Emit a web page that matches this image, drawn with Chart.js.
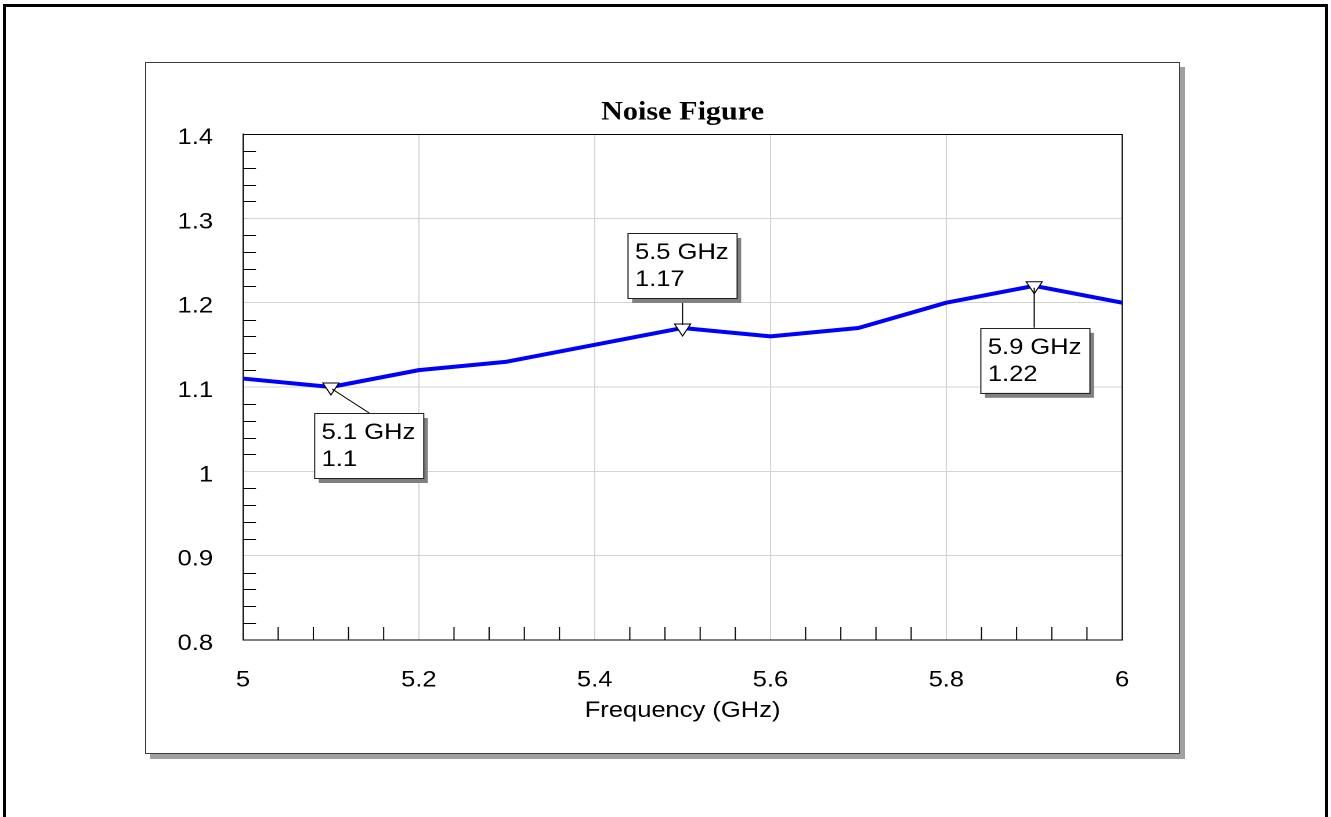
<!DOCTYPE html>
<html><head><meta charset="utf-8">
<script src="https://cdn.jsdelivr.net/npm/chart.js@4"></script>
<style>
html,body{margin:0;padding:0;background:#fff;overflow:hidden;width:1331px;height:817px;}
#frame{position:absolute;left:3px;top:4px;width:1325px;height:900px;border:3px solid #000;box-sizing:border-box;}
#panel{position:absolute;left:145px;top:62px;width:1035px;height:692px;border:1px solid #3c3c3c;box-sizing:border-box;background:#fff;box-shadow:5px 5px 0 #a0a0a0;}
#wrap{position:absolute;left:0;top:0;width:1147px;height:817px;transform:scaleX(1.160418);transform-origin:0 0;}
</style></head>
<body>
<div id="frame"></div>
<div id="panel"></div>
<div id="wrap"><canvas id="c" width="1147" height="817"></canvas></div>
<script>
// ---- data ----
const freqGHz = [5.0, 5.1, 5.2, 5.3, 5.4, 5.5, 5.6, 5.7, 5.8, 5.9, 6.0];
const noiseFigure = [1.11, 1.10, 1.12, 1.13, 1.15, 1.17, 1.16, 1.17, 1.20, 1.22, 1.20];
const markerFreqs = [5.1, 5.5, 5.9];
const markerValues = [1.1, 1.17, 1.22];
const xTickLabels = ['5', '5.2', '5.4', '5.6', '5.8', '6'];
const yTickLabels = ['0.8', '0.9', '1', '1.1', '1.2', '1.3', '1.4'];
const chartTitle = 'Noise Figure';
const xAxisTitle = 'Frequency (GHz)';

// ---- styling ----
const S = 1331 / 1147;
const SANS = '"Liberation Sans", Arial, sans-serif';
const SERIF = '"Liberation Serif", "Times New Roman", serif';
const GRID = '#d3d3d3';
const calloutPlacement = ['belowRight', 'above', 'below'];

const edgeGrid = (ctx) => {
  const n = ctx.scale.ticks.length;
  return (ctx.index === 0 || ctx.index === n - 1) ? 'rgba(0,0,0,0)' : GRID;
};

const framePlugin = {
  id: 'frameTicks',
  beforeDatasetsDraw(chart) {
    const { ctx, chartArea: a, scales: { x, y } } = chart;
    ctx.save();
    ctx.strokeStyle = '#000';
    ctx.lineWidth = 1;
    ctx.beginPath();
    const nx = Math.round((x.max - x.min) / 0.04);
    for (let k = 1; k < nx; k++) {
      if (k % 5 === 0) continue;
      const xp = x.getPixelForValue(x.min + k * 0.04);
      ctx.moveTo(xp, a.bottom);
      ctx.lineTo(xp, a.bottom - 13);
    }
    const ny = Math.round((y.max - y.min) / 0.02);
    for (let k = 1; k < ny; k++) {
      if (k % 5 === 0) continue;
      const yp = Math.round(y.getPixelForValue(y.min + k * 0.02)) + 0.5;
      ctx.moveTo(a.left, yp);
      ctx.lineTo(a.left + 13 / S, yp);
    }
    ctx.stroke();
    ctx.beginPath();
    ctx.moveTo(a.left, Math.round(a.top) + 0.5);
    ctx.lineTo(a.right, Math.round(a.top) + 0.5);
    ctx.moveTo(a.right, a.top);
    ctx.lineTo(a.right, a.bottom);
    ctx.stroke();
    ctx.restore();
  }
};

const calloutPlugin = {
  id: 'callouts',
  afterDatasetsDraw(chart) {
    const { ctx, scales: { x, y } } = chart;
    ctx.save();
    ctx.font = '22px ' + SANS;
    ctx.textBaseline = 'middle';
    ctx.textAlign = 'left';
    markerFreqs.forEach((f, i) => {
      const px = x.getPixelForValue(f);
      const py = y.getPixelForValue(markerValues[i]);
      const w = 94, h = 65;
      let bx, by, l0, l1;
      const p = calloutPlacement[i];
      if (p === 'belowRight') {
        bx = px - 14; by = py + 26;
        l0 = [px + 1, py + 2]; l1 = [bx + w / 2, by];
      } else if (p === 'above') {
        bx = px - w / 2; by = py - 95;
        l0 = [px, by + h]; l1 = [px, py - 3];
      } else {
        bx = px - w / 2 + 1; by = py + 42;
        l0 = [px, py + 2]; l1 = [px, by];
      }
      ctx.strokeStyle = '#000';
      ctx.lineWidth = 1;
      ctx.beginPath();
      ctx.moveTo(l0[0], l0[1]);
      ctx.lineTo(l1[0], l1[1]);
      ctx.stroke();
      ctx.fillStyle = '#808080';
      ctx.fillRect(bx + 3.5, by + 5, w, h);
      ctx.fillStyle = '#fff';
      ctx.fillRect(bx, by, w, h);
      ctx.strokeStyle = '#222';
      ctx.strokeRect(bx, Math.round(by) + 0.5, w, h);
      ctx.fillStyle = '#000';
      ctx.fillText(f + ' GHz', bx + 6, by + 20);
      ctx.fillText(String(markerValues[i]), bx + 6, by + 47);
    });
    ctx.restore();
  }
};

new Chart(document.getElementById('c'), {
  type: 'line',
  data: {
    datasets: [{
      data: freqGHz.map((f, i) => ({ x: f, y: noiseFigure[i] })),
      borderColor: '#0000ff',
      borderWidth: 4,
      tension: 0,
      fill: false,
      borderJoinStyle: 'round',
      pointStyle: 'triangle',
      rotation: 180,
      pointRadius: (ctx) => (ctx.raw && markerFreqs.includes(ctx.raw.x)) ? 8 : 0,
      pointBackgroundColor: '#fff',
      pointBorderColor: '#000',
      pointBorderWidth: 1
    }]
  },
  options: {
    responsive: false,
    animation: false,
    devicePixelRatio: 2,
    events: [],
    layout: { padding: { left: 0, right: 180, top: 0, bottom: 0 } },
    plugins: {
      legend: { display: false },
      tooltip: { enabled: false },
      title: {
        display: true, text: chartTitle, color: '#000', fullSize: false,
        font: { family: SERIF, size: 26, weight: 'bold' },
        padding: { top: 97.4, bottom: 5.4 }
      }
    },
    scales: {
      x: {
        type: 'linear', min: 5, max: 6,
        afterFit(s) { s.height = 177; },
        ticks: {
          stepSize: 0.2, padding: 27, color: '#000', maxRotation: 0, autoSkip: false,
          font: { family: SANS, size: 22 },
          callback: (v, i) => xTickLabels[i] ?? ''
        },
        grid: { drawTicks: false, color: edgeGrid, lineWidth: 1 },
        border: { display: true, color: '#000', width: 1 },
        title: {
          display: true, text: xAxisTitle, color: '#000',
          font: { family: SANS, size: 22 },
          padding: { top: 4, bottom: 92.8 }
        }
      },
      y: {
        type: 'linear', min: 0.8, max: 1.4,
        afterFit(s) { s.width = 209.4; },
        ticks: {
          stepSize: 0.1, padding: 25.8, labelOffset: 4, color: '#000', autoSkip: false,
          font: { family: SANS, size: 22 },
          callback: (v, i) => yTickLabels[i] ?? ''
        },
        grid: { drawTicks: false, color: edgeGrid, lineWidth: 1 },
        border: { display: true, color: '#000', width: 1 }
      }
    }
  },
  plugins: [framePlugin, calloutPlugin]
});
</script>
</body></html>
